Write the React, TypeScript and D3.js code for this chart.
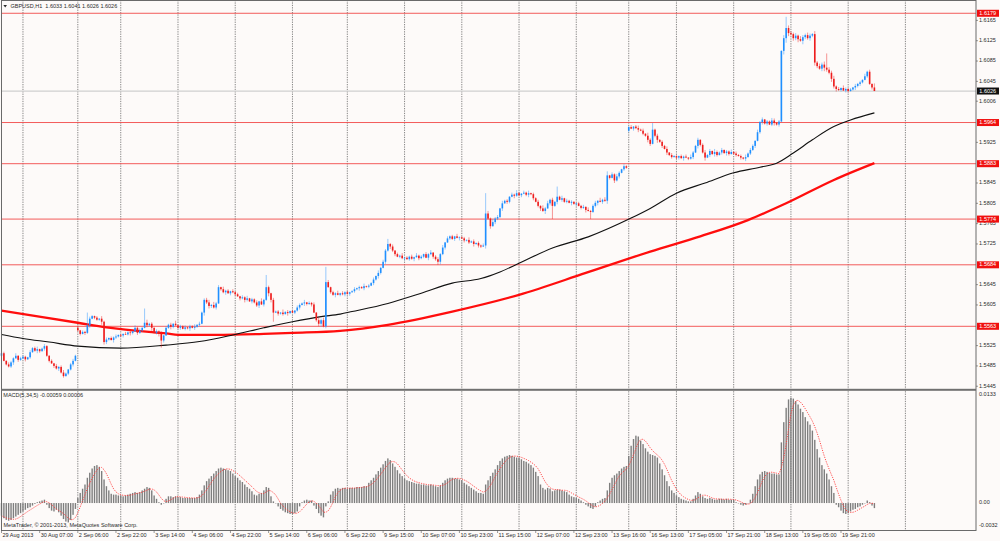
import React from 'react';
import * as d3 from 'd3';

const W = 1000;
const H = 541;

// ---- axis texts ----
const titleText = 'GBPUSD,H1  1.6033 1.6041 1.6026 1.6026';
const macdTitle = 'MACD(5,34,5) -0.00059 0.00006';
const copyright = 'MetaTrader, \u00A9 2001-2013, MetaQuotes Software Corp.';
const timeLabels = ['29 Aug 2013', '30 Aug 07:00', '2 Sep 06:00', '2 Sep 22:00', '3 Sep 14:00', '4 Sep 06:00', '4 Sep 22:00', '5 Sep 14:00', '6 Sep 06:00', '6 Sep 22:00', '9 Sep 15:00', '10 Sep 07:00', '10 Sep 23:00', '11 Sep 15:00', '12 Sep 07:00', '12 Sep 23:00', '13 Sep 16:00', '16 Sep 13:00', '17 Sep 05:00', '17 Sep 21:00', '18 Sep 13:00', '19 Sep 05:00', '19 Sep 21:00'];
const timeLabelStep = 16;
const priceTicks = ['1.6165', '1.6125', '1.6085', '1.6045', '1.6006', '1.5925', '1.5845', '1.5805', '1.5765', '1.5725', '1.5645', '1.5605', '1.5525', '1.5485', '1.5445'];
const levelLines = [1.6179, 1.5964, 1.5883, 1.5774, 1.5684, 1.5563];
const lastPrice = 1.6026;
const macdTicks = ['0.0133', '0.00', '-0.0032'];
const gridBars = [9, 32, 50, 74, 98, 122, 145, 169, 193, 217, 241, 263, 283, 307, 331, 355, 379];

// ---- closes per day, pips above 1.5000 ----
const aug29 = [510, 495, 488, 484, 492, 500, 505, 497, 500];
const aug30 = [503, 498, 502, 512, 520, 515, 518, 514, 519, 524, 505, 495, 490, 485, 480, 483, 472, 465, 470, 478, 488, 495, 505];
const sep02 = [555, 548, 552, 550, 565, 578, 583, 580, 576, 578, 572, 532, 537, 540, 536, 541, 543, 546];
const sep03 = [545, 548, 547, 551, 550, 553, 560, 550, 555, 560, 570, 565, 568, 560, 550, 553, 548, 535, 545, 560, 566, 562, 568, 565];
const sep04 = [560, 563, 558, 561, 559, 563, 560, 562, 566, 568, 590, 615, 610, 603, 605, 600, 608, 640, 636, 630, 633, 628, 632, 630];
const sep05 = [626, 622, 618, 620, 615, 618, 612, 616, 610, 604, 612, 606, 615, 640, 628, 615, 590, 592, 588, 590, 587, 591, 589, 593];
const sep06 = [590, 594, 600, 605, 608, 610, 607, 609, 606, 590, 575, 568, 575, 563, 650, 640, 630, 625, 628, 625, 628, 626, 630];
const sep09 = [627, 630, 632, 636, 638, 640, 638, 642, 641, 643, 648, 655, 662, 668, 678, 690, 712, 725, 720, 712, 705, 700, 702, 697];
const sep10 = [698, 695, 700, 696, 699, 702, 697, 700, 705, 698, 705, 708, 700, 695, 690, 705, 718, 728, 736, 740, 735, 740, 737, 738];
const sep11 = [736, 732, 733, 728, 730, 725, 727, 722, 720, 722, 785, 775, 760, 768, 775, 778, 795, 805, 810, 808, 818, 822, 820, 825];
const sep12 = [821, 824, 826, 822, 825, 823, 815, 808, 800, 795, 790, 795, 805, 812, 800, 808, 818, 812, 815, 808, 810, 806, 808, 804];
const sep13 = [805, 800, 796, 798, 792, 790, 788, 800, 806, 810, 808, 812, 810, 860, 855, 862, 850, 858, 865, 872, 878, 875];
const sep16 = [955, 952, 956, 953, 950, 948, 942, 938, 930, 922, 950, 938, 930, 926, 918, 912, 905, 900, 896, 898];
const sep17 = [895, 898, 894, 897, 895, 893, 896, 905, 918, 930, 920, 905, 895, 900, 908, 902, 906, 900, 905, 910, 904, 907, 902, 906];
const sep18 = [903, 900, 898, 895, 893, 896, 903, 910, 918, 928, 945, 965, 970, 962, 966, 960, 968, 963, 960, 966, 1105, 1130, 1150, 1140];
const sep19 = [1138, 1130, 1135, 1128, 1125, 1132, 1136, 1130, 1135, 1138, 1082, 1075, 1070, 1078, 1072, 1068, 1062, 1050, 1035, 1030, 1028, 1032, 1027, 1030];
const sep20 = [1026, 1029, 1033, 1036, 1040, 1043, 1048, 1055, 1064, 1040, 1033, 1026];
const closeDays = [aug29, aug30, sep02, sep03, sep04, sep05, sep06, sep09, sep10, sep11, sep12, sep13, sep16, sep17, sep18, sep19, sep20];
const firstOpen = 505;
const gapOpens: [number, number][] = [[32, 560], [263, 948]];

// wick lengths (pips) per bar, one string per day
const upWickDays = ['231432513', '32142351242131423521342', '413264213152413241', '214231524136231425132416', '132413251423452634152314', '231425132416253142316241', '21432513241635241325142', '312413251324152436241325', '132415231425134251423152', '231524132415263415231426', '314251324163524132514231', '1324152341625314253142', '24135241635241325142', '213241532413524163241325', '142315243152413254231685', '435264354263546354624153', '231423152418'];
const downWickDays = ['412235142', '24131253142314252313241', '231425132261421532', '341253142314261352412531', '241325142316354241325142', '314253142351426531423152', '13241532413562413251324', '241325142314253142534132', '413251423152431524132415', '142315243162514325143152', '241352413526143251423152', '4132514235142631524132', '31425132541362415231', '342513241532614253142531', '231425132413524135241796', '354627435364257436452314', '312534213240'];
const spikeHighs: [number, number][] = [[36, 590], [60, 598], [111, 664], [136, 680], [162, 735], [203, 825], [233, 838], [254, 868], [273, 963], [329, 1172], [346, 1100]];
const spikeLows: [number, number][] = [[43, 527], [67, 521], [114, 572], [183, 684], [231, 774], [247, 774]];

// moving averages, read at bar indices (pips above 1.5000)
const blackMaBars = [0, 9, 20, 32, 50, 69, 83, 97, 110, 122, 134, 142, 147, 162, 176, 189, 201, 209, 217, 231, 246, 264, 272, 283, 295, 307, 318, 325, 332, 340, 349, 356, 366];
const blackMaVals = [547, 539, 532, 524, 520, 526, 533, 546, 560, 572, 582, 587, 592, 608, 628, 648, 657, 670, 687, 717, 739, 776, 795, 825, 845, 865, 876, 884, 904, 930, 956, 969, 983];
const redMaBars = [0, 32, 44, 69, 76, 90, 110, 122, 142, 162, 189, 217, 245, 272, 293, 313, 329, 349, 366];
const redMaVals = [594, 570, 561, 549, 546, 546, 548, 550, 554, 566, 592, 625, 668, 710, 740, 772, 805, 851, 884];

// MACD histogram per day (units of 0.0001)
const mAug29 = [-15, -18, -20, -21, -20, -18, -16, -14, -12];
const mAug30 = [-10, -8, -6, -5, -3, -1, 1, 2, 3, 4, -2, -6, -9, -10, -8, -11, -15, -19, -22, -23, -20, -14, -7];
const mSep02 = [6, 12, 17, 22, 30, 36, 41, 44, 45, 43, 38, 28, 20, 15, 11, 10, 10, 9];
const mSep03 = [9, 8, 9, 10, 11, 12, 13, 12, 13, 15, 17, 19, 18, 15, 9, 5, 1, -2, 0, 5, 8, 8, 7, 8];
const mSep04 = [7, 7, 6, 6, 6, 6, 6, 6, 7, 10, 15, 21, 26, 29, 32, 35, 38, 41, 42, 41, 40, 39, 38, 35];
const mSep05 = [32, 30, 27, 25, 22, 19, 17, 14, 10, 9, 11, 12, 15, 19, 18, 8, 2, 0, -4, -7, -9, -11, -12, -13];
const mSep06 = [-13, -12, -10, -4, 1, 3, 4, 3, 3, -3, -7, -12, -15, -17, -4, 2, 10, 14, 17, 18, 17, 18, 18];
const mSep09 = [17, 18, 18, 18, 19, 19, 19, 20, 20, 24, 27, 30, 34, 38, 42, 46, 50, 53, 51, 47, 43, 39, 35, 32];
const mSep10 = [29, 27, 26, 25, 24, 23, 23, 22, 22, 21, 21, 22, 21, 20, 19, 21, 24, 27, 29, 30, 30, 29, 29, 28];
const mSep11 = [27, 24, 22, 20, 18, 16, 14, 12, 12, 11, 22, 27, 32, 36, 40, 45, 50, 53, 55, 56, 57, 56, 55, 54];
const mSep12 = [54, 52, 50, 49, 47, 45, 42, 37, 32, 22, 18, 16, 18, 17, 14, 15, 16, 16, 15, 14, 13, 10, 8, 7];
const mSep13 = [6, 5, 3, 1, -2, -4, -6, -7, -4, 1, 3, 5, 6, 15, 24, 30, 33, 35, 38, 41, 43, 44];
const mSep16 = [56, 68, 76, 80, 79, 74, 70, 65, 61, 58, 57, 56, 54, 47, 40, 33, 26, 20, 15, 12];
const mSep17 = [9, 7, 5, 4, 3, 2, 2, 5, 9, 13, 11, 8, 6, 5, 6, 5, 4, 4, 5, 5, 4, 5, 4, 4];
const mSep18 = [4, 1, 0, -2, -3, -2, 0, 4, 11, 20, 28, 34, 37, 38, 37, 36, 35, 35, 34, 34, 72, 96, 113, 123];
const mSep19 = [125, 124, 121, 117, 112, 108, 102, 97, 93, 86, 75, 64, 54, 45, 40, 35, 28, 20, 12, -2, -5, -9, -12, -13];
const mSep20 = [-12, -10, -8, -7, -5, -4, -2, 0, 3, 1, -3, -6];
const macdDays = [mAug29, mAug30, mSep02, mSep03, mSep04, mSep05, mSep06, mSep09, mSep10, mSep11, mSep12, mSep13, mSep16, mSep17, mSep18, mSep19, mSep20];
const signalPeriod = 5;

const FONT = "Tahoma, 'Liberation Sans', Arial, sans-serif";
const BULL = '#1f8fff';
const BEAR = '#ee1d1d';
const TXT = '#2a2a2a';

export default function App() {
  const closes = closeDays.flat();
  const n = closes.length;
  const up = upWickDays.join('');
  const dn = downWickDays.join('');
  const opens = closes.map((c, i) => (i === 0 ? firstOpen : closes[i - 1]));
  gapOpens.forEach(([i, o]) => { opens[i] = o; });
  const highs = closes.map((c, i) => Math.max(c, opens[i]) + Number(up[i] || 0));
  const lows = closes.map((c, i) => Math.min(c, opens[i]) - Number(dn[i] || 0));
  spikeHighs.forEach(([i, v]) => { highs[i] = v; });
  spikeLows.forEach(([i, v]) => { lows[i] = v; });
  const px = (p: number) => 1.5 + p / 10000;

  const x = d3.scaleLinear().domain([0, n - 1]).range([1.5, 874.4]);
  const y = d3.scaleLinear().domain([1.544, 1.6201]).range([388.8, 2.1]);
  const macd = macdDays.flat().map((v) => v / 10000);
  const ym = d3.scaleLinear().domain([-0.0032, 0.0133]).range([530, 391]);

  const signal = macd.map((_, i) => d3.mean(macd.slice(Math.max(0, i - signalPeriod + 1), i + 1)) as number);

  const maLine = d3.line<[number, number]>().x((d) => x(d[0])).y((d) => y(px(d[1]))).curve(d3.curveMonotoneX);
  const blackPath = maLine(blackMaBars.map((b, i) => [b, blackMaVals[i]]));
  const redPath = maLine(redMaBars.map((b, i) => [b, redMaVals[i]]));
  const sigPath = d3.line<number>().x((_, i) => x(i)).y((d) => ym(d))(signal);

  const right = 976;
  const bottom = 530.5;
  const fs = 5.5;

  return (
    <div style={{ position: 'fixed', left: 0, top: 0, width: W, height: H }}>
      <svg width={W} height={H} style={{ display: 'block' }} fontFamily={FONT}>
        <rect x={0} y={0} width={W} height={H} fill="#fdfaf9" />

        {/* grid */}
        {gridBars.map((b) => (
          <line key={'g' + b} x1={x(b)} x2={x(b)} y1={0} y2={bottom} stroke="#555" strokeWidth={0.7} strokeDasharray="1.3,1.1" />
        ))}

        {/* level lines */}
        <line x1={1.5} x2={right} y1={y(lastPrice)} y2={y(lastPrice)} stroke="#cfcfcf" strokeWidth={1.2} />
        {levelLines.map((l) => (
          <line key={'l' + l} x1={1.5} x2={right} y1={y(l)} y2={y(l)} stroke="#f24a4a" strokeWidth={0.9} />
        ))}

        {/* moving averages */}
        <path d={redPath || ''} fill="none" stroke="#ff0d0d" strokeWidth={2.3} />
        <path d={blackPath || ''} fill="none" stroke="#111" strokeWidth={1.1} />

        {/* candles */}
        {closes.map((c, i) => {
          const o = opens[i];
          const col = c >= o ? BULL : BEAR;
          const top = y(px(Math.max(o, c)));
          const bot = y(px(Math.min(o, c)));
          return (
            <g key={'c' + i}>
              <line x1={x(i)} x2={x(i)} y1={y(px(highs[i]))} y2={y(px(lows[i]))} stroke={col} strokeOpacity={0.65} strokeWidth={0.7} />
              <rect x={x(i) - 0.8} width={1.6} y={top} height={Math.max(0.7, bot - top)} fill={col} />
            </g>
          );
        })}

        {/* MACD */}
        {macd.map((v, i) => (
          <rect key={'m' + i} x={x(i) - 0.7} width={1.4} y={Math.min(ym(v), ym(0))} height={Math.max(0.4, Math.abs(ym(v) - ym(0)))} fill="#7e7e7e" />
        ))}
        <path d={sigPath || ''} fill="none" stroke="#ff3b3b" strokeWidth={0.9} strokeDasharray="1.2,1.2" />

        {/* frame */}
        <rect x={1.5} y={0.5} width={right - 1.5} height={bottom - 0.5} fill="none" stroke="#6a6a6a" strokeWidth={1} />
        <rect x={1.5} y={388.8} width={right - 1.5} height={2} fill="#707070" />

        {/* title */}
        <path d="M3.4,4.9 L7,4.9 L5.2,7.4 Z" fill={TXT} />
        <text x={10.5} y={6.2} fontSize={fs} fill={TXT} dominantBaseline="middle" xmlSpace="preserve">{titleText}</text>
        <text x={3.3} y={396} fontSize={fs} fill={TXT} dominantBaseline="middle">{macdTitle}</text>
        <text x={3.5} y={525.8} fontSize={fs} fill={TXT} dominantBaseline="middle">{copyright}</text>

        {/* right price axis */}
        {priceTicks.map((t) => (
          <g key={'p' + t}>
            <line x1={right} x2={right + 2} y1={y(+t)} y2={y(+t)} stroke="#555" strokeWidth={0.6} />
            <text x={979} y={y(+t)} fontSize={fs} fill={TXT} dominantBaseline="middle">{t}</text>
          </g>
        ))}
        {levelLines.map((l) => (
          <g key={'lb' + l}>
            <rect x={977} y={y(l) - 3.5} width={22} height={7} fill="#f01010" />
            <text x={979.3} y={y(l) + 0.2} fontSize={fs} fill="#fff" dominantBaseline="middle">{l.toFixed(4)}</text>
          </g>
        ))}
        <rect x={977} y={y(lastPrice) - 3.5} width={22} height={7} fill="#111" />
        <text x={979.3} y={y(lastPrice) + 0.2} fontSize={fs} fill="#fff" dominantBaseline="middle">{lastPrice.toFixed(4)}</text>

        {/* MACD axis */}
        <text x={979} y={ym(+macdTicks[0]) + 3.5} fontSize={fs} fill={TXT} dominantBaseline="middle">{macdTicks[0]}</text>
        <text x={979} y={ym(+macdTicks[1])} fontSize={fs} fill={TXT} dominantBaseline="middle">{macdTicks[1]}</text>
        <text x={979} y={ym(+macdTicks[2]) - 4.3} fontSize={fs} fill={TXT} dominantBaseline="middle">{macdTicks[2]}</text>

        {/* time axis */}
        {timeLabels.map((t, k) => {
          const xi = x(k * timeLabelStep);
          return (
            <g key={'t' + k}>
              <line x1={xi} x2={xi} y1={bottom} y2={bottom + 2.5} stroke="#555" strokeWidth={0.6} />
              <text x={xi + 1} y={535.6} fontSize={fs} fill={TXT} dominantBaseline="middle">{t}</text>
            </g>
          );
        })}
      </svg>
    </div>
  );
}
